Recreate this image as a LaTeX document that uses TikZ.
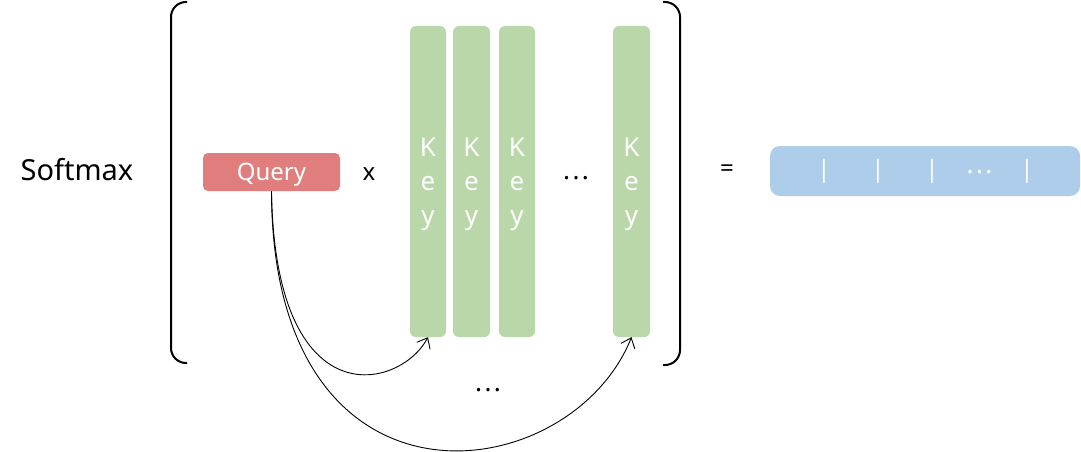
\documentclass[tikz,border=0pt]{standalone}
\usepackage{fontspec}
\setmainfont{Noto Sans}
\usetikzlibrary{arrows.meta}
\definecolor{qred}{HTML}{E07E7E}
\definecolor{kgreen}{HTML}{B9D7A8}
\definecolor{oblue}{HTML}{AECDEA}
\tikzset{
  qbox/.style={fill=qred, rounded corners=5pt, inner sep=0pt, minimum width=137pt, minimum height=38pt, text=white, text depth=0pt, font=\fontsize{24}{28}\selectfont},
  keybox/.style={fill=kgreen, rounded corners=6pt, inner sep=0pt, minimum width=36pt, minimum height=311pt, text=white, align=center, text depth=0pt, font=\fontsize{26}{34}\selectfont},
  outbox/.style={fill=oblue, rounded corners=10pt, inner sep=0pt, minimum width=310pt, minimum height=50pt},
  bar/.style={text=white, inner sep=0pt, font=\fontsize{24}{28}\selectfont},
  lbl/.style={inner sep=0pt, font=\fontsize{24}{28}\selectfont},
  dots/.style={inner sep=0pt, anchor=base, font=\fontsize{26}{28}\selectfont},
  brk/.style={line width=2pt, rounded corners=15pt},
  conn/.style={line width=0.9pt, -{Straight Barb[length=9pt,width=15pt,line width=0.9pt]}}
}
\newcommand{\mydots}{.\hspace{2.5pt}.\hspace{2.5pt}.}
\begin{document}
\begin{tikzpicture}[x=1pt,y=-1pt]
\useasboundingbox (0,0) rectangle (1081,452);
\node[lbl, font=\fontsize{29}{34}\selectfont] (softmax) at (77,170) {Softmax};
% brackets
\draw[brk] (187,2) -- (171,2) -- (171,363) -- (187,363);
\draw[brk] (663,2) -- (680,2) -- (680,365) -- (663,365);
\node[qbox] (q) at (271.5,172) {Query};
\node[lbl] (times) at (369,174) {x};
\node[keybox] (k1) at (428,181.5) {K\\e\\y};
\node[keybox, minimum width=37pt] (k2) at (471.5,181.5) {K\\e\\y};
\node[keybox] (k3) at (517,181.5) {K\\e\\y};
\node[dots] (kdots) at (576,179) {\mydots};
\node[keybox, minimum width=37pt] (k5) at (631.5,181.5) {K\\e\\y};
\node[lbl] (eq) at (727,171) {=};
\node[outbox] (out) at (925,171) {};
\node[bar] (b1) at (824,171) {|};
\node[bar] (b2) at (878,171) {|};
\node[bar] (b3) at (932,171) {|};
\node[dots, text=white] (bd) at (979.5,173) {\mydots};
\node[bar] (b5) at (1027,171) {|};
\node[dots] (adots) at (488,391) {\mydots};
\draw[conn] (q.south) .. controls (275,420) and (400,390) .. (k1.south);
\draw[conn] (q.south) .. controls (272,530) and (570,490) .. (k5.south);
\end{tikzpicture}
\end{document}
